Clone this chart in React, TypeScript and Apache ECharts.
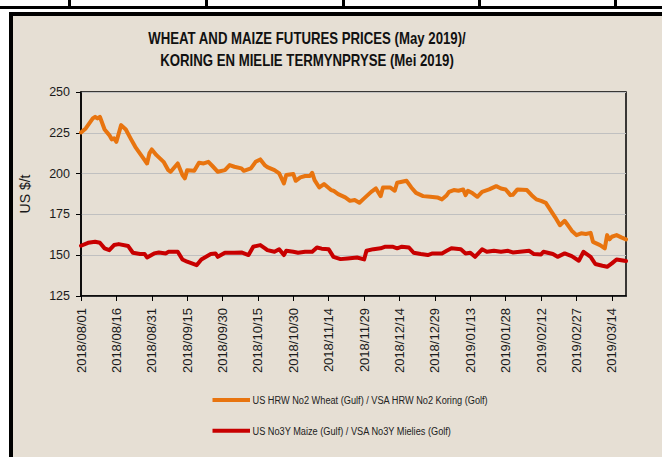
import React, { useEffect, useRef } from "react";
import * as echarts from "echarts";

// ---- data ----
const wheatDates = [
  "2018-08-01","2018-08-03","2018-08-06","2018-08-07","2018-08-08","2018-08-09","2018-08-11","2018-08-13","2018-08-14","2018-08-15",
  "2018-08-16","2018-08-18","2018-08-20","2018-08-22","2018-08-24","2018-08-27","2018-08-29","2018-08-30","2018-08-31","2018-09-02",
  "2018-09-05","2018-09-07","2018-09-08","2018-09-11","2018-09-13","2018-09-14","2018-09-15","2018-09-18","2018-09-20","2018-09-22",
  "2018-09-24","2018-09-26","2018-09-28","2018-10-01","2018-10-03","2018-10-05","2018-10-08","2018-10-09","2018-10-12","2018-10-14",
  "2018-10-16","2018-10-18","2018-10-19","2018-10-22","2018-10-24","2018-10-26","2018-10-27","2018-10-30","2018-10-31","2018-11-02",
  "2018-11-04","2018-11-06","2018-11-07","2018-11-08","2018-11-10","2018-11-12","2018-11-15","2018-11-16","2018-11-18","2018-11-21",
  "2018-11-23","2018-11-25","2018-11-27","2018-11-29","2018-12-02","2018-12-04","2018-12-06","2018-12-07","2018-12-10","2018-12-12",
  "2018-12-13","2018-12-15","2018-12-17","2018-12-19","2018-12-21","2018-12-24","2018-12-27","2018-12-30","2019-01-01","2019-01-03",
  "2019-01-04","2019-01-06","2019-01-08","2019-01-10","2019-01-11","2019-01-12","2019-01-14","2019-01-16","2019-01-18","2019-01-21",
  "2019-01-24","2019-01-26","2019-01-28","2019-01-30","2019-01-31","2019-02-02","2019-02-06","2019-02-08","2019-02-10","2019-02-12",
  "2019-02-14","2019-02-16","2019-02-18","2019-02-20","2019-02-22","2019-02-23","2019-02-25","2019-02-27","2019-03-01","2019-03-03",
  "2019-03-05","2019-03-06","2019-03-09","2019-03-11","2019-03-12","2019-03-13","2019-03-14","2019-03-16","2019-03-18","2019-03-20",
];
const wheatValues = [
  225.2,227.7,233.8,234.8,233.8,234.8,227.0,223.6,221.0,221.6,
  219.5,229.7,227.0,221.6,216.4,210.3,206.2,212.4,214.8,211.3,
  207.2,202.1,201.1,206.2,199.1,197.1,202.1,201.7,206.6,206.2,
  207.2,204.2,201.1,202.1,205.2,204.2,203.2,201.7,203.2,207.2,
  208.7,205.0,204.0,202.1,200.1,194.0,199.1,199.7,195.6,197.7,
  198.5,198.5,200.5,196.0,191.5,193.6,189.9,189.5,187.4,185.4,
  183.3,183.8,182.1,184.8,188.8,190.9,186.2,191.5,191.5,189.5,
  194.4,195.0,195.6,191.5,188.2,186.2,185.8,185.4,184.2,186.8,
  188.8,189.9,189.5,190.3,186.8,189.5,187.9,185.8,188.8,190.3,
  192.3,190.9,190.3,186.8,187.0,190.3,189.9,186.8,184.2,183.3,
  182.1,177.6,173.2,168.4,171.1,169.1,165.0,162.3,163.4,163.0,
  163.7,158.2,156.2,154.2,162.3,159.7,161.3,162.3,160.9,159.7,
];
const maizeDates = [
  "2018-08-01","2018-08-04","2018-08-07","2018-08-09","2018-08-11","2018-08-13","2018-08-15","2018-08-17","2018-08-21","2018-08-23",
  "2018-08-26","2018-08-28","2018-08-29","2018-09-01","2018-09-03","2018-09-06","2018-09-07","2018-09-11","2018-09-13","2018-09-15",
  "2018-09-19","2018-09-21","2018-09-25","2018-09-27","2018-09-28","2018-10-01","2018-10-05","2018-10-08","2018-10-11","2018-10-13",
  "2018-10-16","2018-10-18","2018-10-19","2018-10-22","2018-10-24","2018-10-26","2018-10-27","2018-10-30","2018-11-01","2018-11-04",
  "2018-11-07","2018-11-09","2018-11-11","2018-11-14","2018-11-16","2018-11-19","2018-11-22","2018-11-26","2018-11-29","2018-11-30",
  "2018-12-03","2018-12-06","2018-12-08","2018-12-11","2018-12-13","2018-12-15","2018-12-18","2018-12-20","2018-12-23","2018-12-26",
  "2018-12-28","2019-01-01","2019-01-03","2019-01-05","2019-01-09","2019-01-11","2019-01-13","2019-01-15","2019-01-18","2019-01-20",
  "2019-01-23","2019-01-26","2019-01-29","2019-01-31","2019-02-03","2019-02-07","2019-02-09","2019-02-12","2019-02-13","2019-02-17",
  "2019-02-19","2019-02-22","2019-02-25","2019-02-28","2019-03-02","2019-03-05","2019-03-07","2019-03-10","2019-03-12","2019-03-14",
  "2019-03-16","2019-03-20",
];
const maizeValues = [
  155.8,157.6,158.2,157.6,154.2,153.1,156.2,156.8,155.6,151.5,
  150.7,150.7,148.6,151.1,151.7,151.1,152.1,152.1,147.4,146.0,
  143.9,147.4,150.7,151.1,149.0,151.5,151.5,151.7,150.1,155.2,
  156.2,154.2,153.1,152.1,153.6,150.1,152.7,152.1,151.5,152.1,
  152.1,154.7,154.0,153.6,149.0,147.6,148.0,148.6,147.4,152.7,
  153.7,154.2,155.2,155.2,154.2,155.2,154.7,151.5,150.7,150.1,
  151.1,151.1,152.7,154.2,153.6,151.1,151.5,149.0,153.6,152.1,
  152.7,152.1,152.7,151.7,152.1,152.7,150.7,150.5,152.1,150.7,
  149.0,151.1,149.4,146.6,152.1,149.0,144.6,143.5,142.9,145.0,
  147.4,146.4,
];
const tickLabels = [
  "2018/08/01","2018/08/16","2018/08/31","2018/09/15","2018/09/30","2018/10/15","2018/10/30","2018/11/14",
  "2018/11/29","2018/12/14","2018/12/29","2019/01/13","2019/01/28","2019/02/12","2019/02/27","2019/03/14",
];
const axisStart = "2018/08/01";
const axisEnd = "2019/03/20";
const seriesNames = [
  "US HRW No2 Wheat (Gulf) / VSA HRW No2 Koring (Golf)",
  "US No3Y Maize (Gulf) / VSA No3Y Mielies (Golf)",
];
const seriesColors = ["#e8740f", "#c80000"];
const titleLines = [
  "WHEAT AND MAIZE FUTURES PRICES (May 2019)/",
  "KORING EN MIELIE TERMYNPRYSE (Mei 2019)",
];

const FONT = "'Liberation Sans', Arial, sans-serif";

function toUTC(s: string): number {
  const p = s.split(/[-/]/).map(Number);
  return Date.UTC(p[0], p[1] - 1, p[2]);
}
const BASE = toUTC(axisStart);
const dayOf = (s: string) => Math.round((toUTC(s) - BASE) / 86400000);

export default function App() {
  const ref = useRef<HTMLDivElement>(null);
  useEffect(() => {
    if (!ref.current) return;
    const chart = echarts.init(ref.current, undefined, { renderer: "svg" });
    const tickDays = tickLabels.map(dayOf);
    const labelMap: Record<number, string> = {};
    tickLabels.forEach((l, i) => (labelMap[tickDays[i]] = l));

    const legendGraphics: any[] = [];
    seriesNames.forEach((name, i) => {
      const cy = 400 + i * 30.7;
      legendGraphics.push({
        type: "rect",
        shape: { x: 212.5, y: cy - 2, width: 37.5, height: 4 },
        style: { fill: seriesColors[i] },
      });
      legendGraphics.push({
        type: "text",
        x: 252.5,
        y: cy,
        scaleX: 0.8,
        style: { text: name, font: `11.5px ${FONT}`, fill: "#222", align: "left", verticalAlign: "middle" },
      });
    });

    chart.setOption({
      animation: false,
      backgroundColor: "transparent",
      textStyle: { fontFamily: FONT },
      graphic: [
        {
          type: "text",
          x: 307,
          y: 38,
          scaleX: 0.8,
          style: { text: titleLines[0], font: `bold 16.5px ${FONT}`, fill: "#111", align: "center", verticalAlign: "middle" },
        },
        {
          type: "text",
          x: 307,
          y: 60,
          scaleX: 0.8,
          style: { text: titleLines[1], font: `bold 16.5px ${FONT}`, fill: "#111", align: "center", verticalAlign: "middle" },
        },
        ...legendGraphics,
      ],
      grid: {
        left: 81,
        top: 92,
        width: 545,
        height: 204,
        show: true,
        borderColor: "#000",
        borderWidth: 1.5,
        backgroundColor: "transparent",
      },
      xAxis: {
        type: "value",
        min: 0,
        max: dayOf(axisEnd),
        interval: 15,
        axisLine: { show: true, onZero: false, lineStyle: { color: "#000", width: 1.5 } },
        axisTick: { show: true, length: 5, customValues: tickDays, lineStyle: { color: "#000", width: 1 } },
        axisLabel: {
          customValues: tickDays,
          rotate: 90,
          margin: 12,
          fontSize: 13,
          color: "#1a1a1a",
          fontFamily: FONT,
          formatter: (v: number) => labelMap[Math.round(v)] ?? "",
        },
        splitLine: { show: false },
      },
      yAxis: {
        type: "value",
        min: 125,
        max: 250,
        interval: 25,
        name: "US $/t",
        nameLocation: "middle",
        nameRotate: 90,
        nameGap: 49,
        nameTextStyle: { fontSize: 14, color: "#1a1a1a", fontFamily: FONT },
        axisLine: { show: true, lineStyle: { color: "#000", width: 1.5 } },
        axisTick: { show: true, length: 5, lineStyle: { color: "#000", width: 1 } },
        axisLabel: { margin: 11, fontSize: 12.5, color: "#1a1a1a", fontFamily: FONT },
        splitLine: { show: true, lineStyle: { color: "#c0c0c0", width: 1 } },
      },
      series: [
        {
          name: seriesNames[0],
          type: "line",
          symbol: "none",
          showSymbol: false,
          data: wheatDates.map((d, i) => [dayOf(d), wheatValues[i]]),
          itemStyle: { color: seriesColors[0] },
          lineStyle: { color: seriesColors[0], width: 4, join: "round", cap: "round" },
        },
        {
          name: seriesNames[1],
          type: "line",
          symbol: "none",
          showSymbol: false,
          data: maizeDates.map((d, i) => [dayOf(d), maizeValues[i]]),
          itemStyle: { color: seriesColors[1] },
          lineStyle: { color: seriesColors[1], width: 4, join: "round", cap: "round" },
        },
      ],
    });
    return () => chart.dispose();
  }, []);

  const vlines = [68, 205, 342, 478, 614];
  return (
    <div style={{ position: "absolute", left: 0, top: 0, width: 662, height: 457, background: "#fff", overflow: "hidden" }}>
      <div style={{ position: "absolute", left: 0, top: 6, width: 662, height: 3, background: "#000" }} />
      {vlines.map((x) => (
        <div key={x} style={{ position: "absolute", left: x, top: 0, width: 2.5, height: 8, background: "#000" }} />
      ))}
      <div
        style={{
          position: "absolute",
          left: 9,
          top: 12,
          width: 700,
          height: 500,
          border: "4px solid #000",
          background: "#e6dfd4",
        }}
      />
      <div ref={ref} style={{ position: "absolute", left: 0, top: 0, width: 662, height: 457 }} />
    </div>
  );
}
